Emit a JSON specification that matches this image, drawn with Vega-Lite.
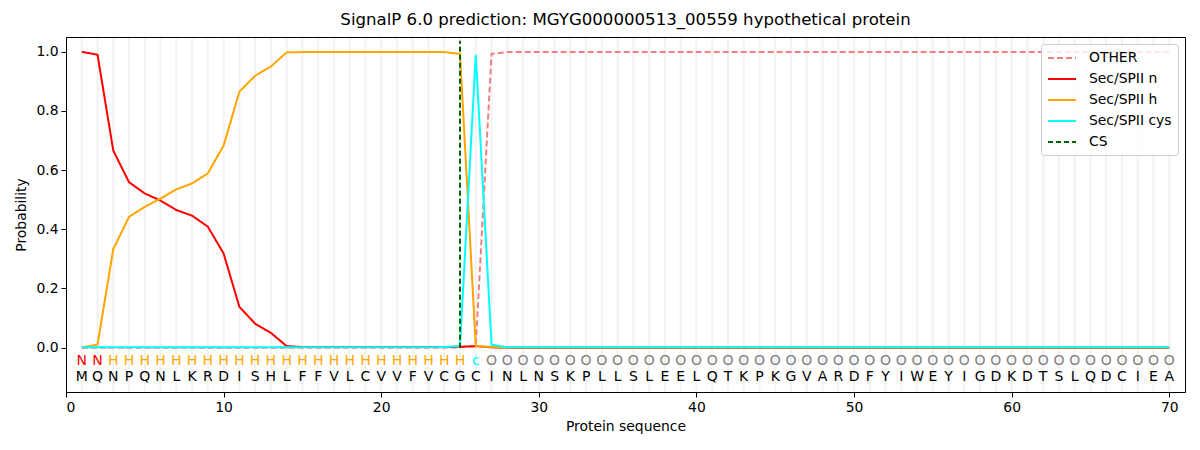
{
  "$schema": "https://vega.github.io/schema/vega-lite/v6.json",
  "description": "SignalP 6.0 per-residue probabilities for MGYG000000513_00559.",
  "autosize": "none",
  "width": 1119,
  "height": 355,
  "padding": {"left": 66, "top": 37, "right": 15, "bottom": 58},
  "title": {
    "text": "SignalP 6.0 prediction: MGYG000000513_00559 hypothetical protein",
    "fontSize": 16.6,
    "fontWeight": "normal",
    "font": "DejaVu Sans",
    "offset": 8
  },
  "datasets": {
    "seq": [
      {"pos": 1, "aa": "M", "lab": "N", "OTHER": 0, "Sec/SPII n": 1.0, "Sec/SPII h": 0.001, "Sec/SPII cys": 0.001},
      {"pos": 2, "aa": "Q", "lab": "N", "OTHER": 0, "Sec/SPII n": 0.99, "Sec/SPII h": 0.01, "Sec/SPII cys": 0.001},
      {"pos": 3, "aa": "N", "lab": "H", "OTHER": 0, "Sec/SPII n": 0.666, "Sec/SPII h": 0.333, "Sec/SPII cys": 0.001},
      {"pos": 4, "aa": "P", "lab": "H", "OTHER": 0, "Sec/SPII n": 0.559, "Sec/SPII h": 0.442, "Sec/SPII cys": 0.001},
      {"pos": 5, "aa": "Q", "lab": "H", "OTHER": 0, "Sec/SPII n": 0.521, "Sec/SPII h": 0.476, "Sec/SPII cys": 0.001},
      {"pos": 6, "aa": "N", "lab": "H", "OTHER": 0, "Sec/SPII n": 0.497, "Sec/SPII h": 0.504, "Sec/SPII cys": 0.001},
      {"pos": 7, "aa": "L", "lab": "H", "OTHER": 0, "Sec/SPII n": 0.465, "Sec/SPII h": 0.535, "Sec/SPII cys": 0.001},
      {"pos": 8, "aa": "K", "lab": "H", "OTHER": 0, "Sec/SPII n": 0.446, "Sec/SPII h": 0.555, "Sec/SPII cys": 0.001},
      {"pos": 9, "aa": "R", "lab": "H", "OTHER": 0, "Sec/SPII n": 0.409, "Sec/SPII h": 0.589, "Sec/SPII cys": 0.001},
      {"pos": 10, "aa": "D", "lab": "H", "OTHER": 0, "Sec/SPII n": 0.318, "Sec/SPII h": 0.683, "Sec/SPII cys": 0.001},
      {"pos": 11, "aa": "I", "lab": "H", "OTHER": 0, "Sec/SPII n": 0.138, "Sec/SPII h": 0.865, "Sec/SPII cys": 0.001},
      {"pos": 12, "aa": "S", "lab": "H", "OTHER": 0, "Sec/SPII n": 0.081, "Sec/SPII h": 0.919, "Sec/SPII cys": 0.001},
      {"pos": 13, "aa": "H", "lab": "H", "OTHER": 0, "Sec/SPII n": 0.05, "Sec/SPII h": 0.95, "Sec/SPII cys": 0.001},
      {"pos": 14, "aa": "L", "lab": "H", "OTHER": 0, "Sec/SPII n": 0.005, "Sec/SPII h": 0.998, "Sec/SPII cys": 0.001},
      {"pos": 15, "aa": "F", "lab": "H", "OTHER": 0, "Sec/SPII n": 0.002, "Sec/SPII h": 0.999, "Sec/SPII cys": 0.001},
      {"pos": 16, "aa": "F", "lab": "H", "OTHER": 0, "Sec/SPII n": 0.002, "Sec/SPII h": 0.999, "Sec/SPII cys": 0.001},
      {"pos": 17, "aa": "V", "lab": "H", "OTHER": 0, "Sec/SPII n": 0.002, "Sec/SPII h": 0.999, "Sec/SPII cys": 0.001},
      {"pos": 18, "aa": "L", "lab": "H", "OTHER": 0, "Sec/SPII n": 0.002, "Sec/SPII h": 0.999, "Sec/SPII cys": 0.001},
      {"pos": 19, "aa": "C", "lab": "H", "OTHER": 0, "Sec/SPII n": 0.002, "Sec/SPII h": 0.999, "Sec/SPII cys": 0.001},
      {"pos": 20, "aa": "V", "lab": "H", "OTHER": 0, "Sec/SPII n": 0.002, "Sec/SPII h": 0.999, "Sec/SPII cys": 0.001},
      {"pos": 21, "aa": "V", "lab": "H", "OTHER": 0, "Sec/SPII n": 0.002, "Sec/SPII h": 0.999, "Sec/SPII cys": 0.001},
      {"pos": 22, "aa": "F", "lab": "H", "OTHER": 0, "Sec/SPII n": 0.002, "Sec/SPII h": 0.999, "Sec/SPII cys": 0.001},
      {"pos": 23, "aa": "V", "lab": "H", "OTHER": 0, "Sec/SPII n": 0.002, "Sec/SPII h": 0.999, "Sec/SPII cys": 0.001},
      {"pos": 24, "aa": "C", "lab": "H", "OTHER": 0, "Sec/SPII n": 0.002, "Sec/SPII h": 0.999, "Sec/SPII cys": 0.002},
      {"pos": 25, "aa": "G", "lab": "H", "OTHER": 0.001, "Sec/SPII n": 0.003, "Sec/SPII h": 0.993, "Sec/SPII cys": 0.005},
      {"pos": 26, "aa": "C", "lab": "c", "OTHER": 0.005, "Sec/SPII n": 0.005, "Sec/SPII h": 0.005, "Sec/SPII cys": 0.99},
      {"pos": 27, "aa": "I", "lab": "O", "OTHER": 0.993, "Sec/SPII n": 0.001, "Sec/SPII h": 0.002, "Sec/SPII cys": 0.01},
      {"pos": 28, "aa": "N", "lab": "O", "OTHER": 0.999, "Sec/SPII n": 0, "Sec/SPII h": 0.001, "Sec/SPII cys": 0.001},
      {"pos": 29, "aa": "L", "lab": "O", "OTHER": 0.999, "Sec/SPII n": 0, "Sec/SPII h": 0.001, "Sec/SPII cys": 0.001},
      {"pos": 30, "aa": "N", "lab": "O", "OTHER": 0.999, "Sec/SPII n": 0, "Sec/SPII h": 0.001, "Sec/SPII cys": 0.001},
      {"pos": 31, "aa": "S", "lab": "O", "OTHER": 0.999, "Sec/SPII n": 0, "Sec/SPII h": 0.001, "Sec/SPII cys": 0.001},
      {"pos": 32, "aa": "K", "lab": "O", "OTHER": 0.999, "Sec/SPII n": 0, "Sec/SPII h": 0.001, "Sec/SPII cys": 0.001},
      {"pos": 33, "aa": "P", "lab": "O", "OTHER": 0.999, "Sec/SPII n": 0, "Sec/SPII h": 0.001, "Sec/SPII cys": 0.001},
      {"pos": 34, "aa": "L", "lab": "O", "OTHER": 0.999, "Sec/SPII n": 0, "Sec/SPII h": 0.001, "Sec/SPII cys": 0.001},
      {"pos": 35, "aa": "L", "lab": "O", "OTHER": 0.999, "Sec/SPII n": 0, "Sec/SPII h": 0.001, "Sec/SPII cys": 0.001},
      {"pos": 36, "aa": "S", "lab": "O", "OTHER": 0.999, "Sec/SPII n": 0, "Sec/SPII h": 0.001, "Sec/SPII cys": 0.001},
      {"pos": 37, "aa": "L", "lab": "O", "OTHER": 0.999, "Sec/SPII n": 0, "Sec/SPII h": 0.001, "Sec/SPII cys": 0.001},
      {"pos": 38, "aa": "E", "lab": "O", "OTHER": 0.999, "Sec/SPII n": 0, "Sec/SPII h": 0.001, "Sec/SPII cys": 0.001},
      {"pos": 39, "aa": "E", "lab": "O", "OTHER": 0.999, "Sec/SPII n": 0, "Sec/SPII h": 0.001, "Sec/SPII cys": 0.001},
      {"pos": 40, "aa": "L", "lab": "O", "OTHER": 0.999, "Sec/SPII n": 0, "Sec/SPII h": 0.001, "Sec/SPII cys": 0.001},
      {"pos": 41, "aa": "Q", "lab": "O", "OTHER": 0.999, "Sec/SPII n": 0, "Sec/SPII h": 0.001, "Sec/SPII cys": 0.001},
      {"pos": 42, "aa": "T", "lab": "O", "OTHER": 0.999, "Sec/SPII n": 0, "Sec/SPII h": 0.001, "Sec/SPII cys": 0.001},
      {"pos": 43, "aa": "K", "lab": "O", "OTHER": 0.999, "Sec/SPII n": 0, "Sec/SPII h": 0.001, "Sec/SPII cys": 0.001},
      {"pos": 44, "aa": "P", "lab": "O", "OTHER": 0.999, "Sec/SPII n": 0, "Sec/SPII h": 0.001, "Sec/SPII cys": 0.001},
      {"pos": 45, "aa": "K", "lab": "O", "OTHER": 0.999, "Sec/SPII n": 0, "Sec/SPII h": 0.001, "Sec/SPII cys": 0.001},
      {"pos": 46, "aa": "G", "lab": "O", "OTHER": 0.999, "Sec/SPII n": 0, "Sec/SPII h": 0.001, "Sec/SPII cys": 0.001},
      {"pos": 47, "aa": "V", "lab": "O", "OTHER": 0.999, "Sec/SPII n": 0, "Sec/SPII h": 0.001, "Sec/SPII cys": 0.001},
      {"pos": 48, "aa": "A", "lab": "O", "OTHER": 0.999, "Sec/SPII n": 0, "Sec/SPII h": 0.001, "Sec/SPII cys": 0.001},
      {"pos": 49, "aa": "R", "lab": "O", "OTHER": 0.999, "Sec/SPII n": 0, "Sec/SPII h": 0.001, "Sec/SPII cys": 0.001},
      {"pos": 50, "aa": "D", "lab": "O", "OTHER": 0.999, "Sec/SPII n": 0, "Sec/SPII h": 0.001, "Sec/SPII cys": 0.001},
      {"pos": 51, "aa": "F", "lab": "O", "OTHER": 0.999, "Sec/SPII n": 0, "Sec/SPII h": 0.001, "Sec/SPII cys": 0.001},
      {"pos": 52, "aa": "Y", "lab": "O", "OTHER": 0.999, "Sec/SPII n": 0, "Sec/SPII h": 0.001, "Sec/SPII cys": 0.001},
      {"pos": 53, "aa": "I", "lab": "O", "OTHER": 0.999, "Sec/SPII n": 0, "Sec/SPII h": 0.001, "Sec/SPII cys": 0.001},
      {"pos": 54, "aa": "W", "lab": "O", "OTHER": 0.999, "Sec/SPII n": 0, "Sec/SPII h": 0.001, "Sec/SPII cys": 0.001},
      {"pos": 55, "aa": "E", "lab": "O", "OTHER": 0.999, "Sec/SPII n": 0, "Sec/SPII h": 0.001, "Sec/SPII cys": 0.001},
      {"pos": 56, "aa": "Y", "lab": "O", "OTHER": 0.999, "Sec/SPII n": 0, "Sec/SPII h": 0.001, "Sec/SPII cys": 0.001},
      {"pos": 57, "aa": "I", "lab": "O", "OTHER": 0.999, "Sec/SPII n": 0, "Sec/SPII h": 0.001, "Sec/SPII cys": 0.001},
      {"pos": 58, "aa": "G", "lab": "O", "OTHER": 0.999, "Sec/SPII n": 0, "Sec/SPII h": 0.001, "Sec/SPII cys": 0.001},
      {"pos": 59, "aa": "D", "lab": "O", "OTHER": 0.999, "Sec/SPII n": 0, "Sec/SPII h": 0.001, "Sec/SPII cys": 0.001},
      {"pos": 60, "aa": "K", "lab": "O", "OTHER": 0.999, "Sec/SPII n": 0, "Sec/SPII h": 0.001, "Sec/SPII cys": 0.001},
      {"pos": 61, "aa": "D", "lab": "O", "OTHER": 0.999, "Sec/SPII n": 0, "Sec/SPII h": 0.001, "Sec/SPII cys": 0.001},
      {"pos": 62, "aa": "T", "lab": "O", "OTHER": 0.999, "Sec/SPII n": 0, "Sec/SPII h": 0.001, "Sec/SPII cys": 0.001},
      {"pos": 63, "aa": "S", "lab": "O", "OTHER": 0.999, "Sec/SPII n": 0, "Sec/SPII h": 0.001, "Sec/SPII cys": 0.001},
      {"pos": 64, "aa": "L", "lab": "O", "OTHER": 0.999, "Sec/SPII n": 0, "Sec/SPII h": 0.001, "Sec/SPII cys": 0.001},
      {"pos": 65, "aa": "Q", "lab": "O", "OTHER": 0.999, "Sec/SPII n": 0, "Sec/SPII h": 0.001, "Sec/SPII cys": 0.001},
      {"pos": 66, "aa": "D", "lab": "O", "OTHER": 0.999, "Sec/SPII n": 0, "Sec/SPII h": 0.001, "Sec/SPII cys": 0.001},
      {"pos": 67, "aa": "C", "lab": "O", "OTHER": 0.999, "Sec/SPII n": 0, "Sec/SPII h": 0.001, "Sec/SPII cys": 0.001},
      {"pos": 68, "aa": "I", "lab": "O", "OTHER": 0.999, "Sec/SPII n": 0, "Sec/SPII h": 0.001, "Sec/SPII cys": 0.001},
      {"pos": 69, "aa": "E", "lab": "O", "OTHER": 0.999, "Sec/SPII n": 0, "Sec/SPII h": 0.001, "Sec/SPII cys": 0.001},
      {"pos": 70, "aa": "A", "lab": "O", "OTHER": 0.999, "Sec/SPII n": 0, "Sec/SPII h": 0.001, "Sec/SPII cys": 0.001}
    ],
    "cs": [
      {"series": "CS", "pos": 25, "lo": 0, "hi": 1.037}
    ]
  },
  "data": {"name": "seq"},
  "encoding": {
    "x": {
      "field": "pos",
      "type": "quantitative",
      "title": "Protein sequence",
      "scale": {"domain": [0, 71], "nice": false, "zero": false},
      "axis": {"values": [0, 10, 20, 30, 40, 50, 60, 70], "grid": false, "titlePadding": 6}
    }
  },
  "layer": [
    {
      "mark": {"type": "rule", "color": "#f2f2f2", "strokeWidth": 2},
      "encoding": {
        "y": {"datum": -0.147, "type": "quantitative"},
        "y2": {"datum": 1.047}
      }
    },
    {
      "mark": {"type": "text", "fontSize": 14, "font": "DejaVu Sans", "baseline": "middle"},
      "encoding": {
        "y": {"datum": -0.045, "type": "quantitative"},
        "text": {"field": "lab"},
        "color": {
          "condition": [
            {"test": "datum.lab === 'N'", "value": "red"},
            {"test": "datum.lab === 'H'", "value": "orange"},
            {"test": "datum.lab === 'c'", "value": "cyan"}
          ],
          "value": "gray"
        }
      }
    },
    {
      "mark": {"type": "text", "fontSize": 14, "font": "DejaVu Sans", "baseline": "middle", "color": "black"},
      "encoding": {
        "y": {"datum": -0.1, "type": "quantitative"},
        "text": {"field": "aa"}
      }
    },
    {
      "transform": [
        {"fold": ["OTHER", "Sec/SPII n", "Sec/SPII h", "Sec/SPII cys"], "as": ["series", "p"]}
      ],
      "mark": {"type": "line", "strokeWidth": 2},
      "encoding": {
        "y": {
          "field": "p",
          "type": "quantitative",
          "title": "Probability",
          "scale": {"domain": [-0.15, 1.05], "nice": false, "zero": false},
          "axis": {"values": [0, 0.2, 0.4, 0.6, 0.8, 1.0], "format": ".1f", "grid": false, "titlePadding": 7}
        },
        "color": {
          "field": "series",
          "type": "nominal",
          "title": null,
          "scale": {
            "domain": ["OTHER", "Sec/SPII n", "Sec/SPII h", "Sec/SPII cys", "CS"],
            "range": ["#f08080", "red", "orange", "cyan", "darkgreen"]
          }
        },
        "strokeDash": {
          "field": "series",
          "type": "nominal",
          "title": null,
          "scale": {
            "domain": ["OTHER", "Sec/SPII n", "Sec/SPII h", "Sec/SPII cys", "CS"],
            "range": [[6, 3], [1, 0], [1, 0], [1, 0], [5, 3]]
          }
        }
      }
    },
    {
      "data": {"name": "cs"},
      "mark": {"type": "rule", "strokeWidth": 2},
      "encoding": {
        "y": {"field": "lo", "type": "quantitative"},
        "y2": {"field": "hi"},
        "color": {"field": "series", "type": "nominal", "title": null},
        "strokeDash": {"field": "series", "type": "nominal", "title": null}
      }
    }
  ],
  "config": {
    "font": "DejaVu Sans",
    "view": {"stroke": "black", "strokeWidth": 1},
    "axis": {
      "labelFontSize": 13.9,
      "titleFontSize": 13.9,
      "titleFontWeight": "normal",
      "labelColor": "black",
      "titleColor": "black",
      "domainColor": "black",
      "tickColor": "black",
      "tickSize": 5,
      "labelPadding": 3
    },
    "legend": {
      "orient": "top-right",
      "offset": 7,
      "padding": 6,
      "fillColor": "rgba(255,255,255,0.8)",
      "strokeColor": "#cccccc",
      "cornerRadius": 3,
      "labelFontSize": 13.9,
      "labelColor": "black",
      "symbolType": "M-1,0L3,0",
      "symbolSize": 196,
      "symbolStrokeWidth": 2,
      "rowPadding": 6,
      "labelOffset": 26
    }
  }
}
